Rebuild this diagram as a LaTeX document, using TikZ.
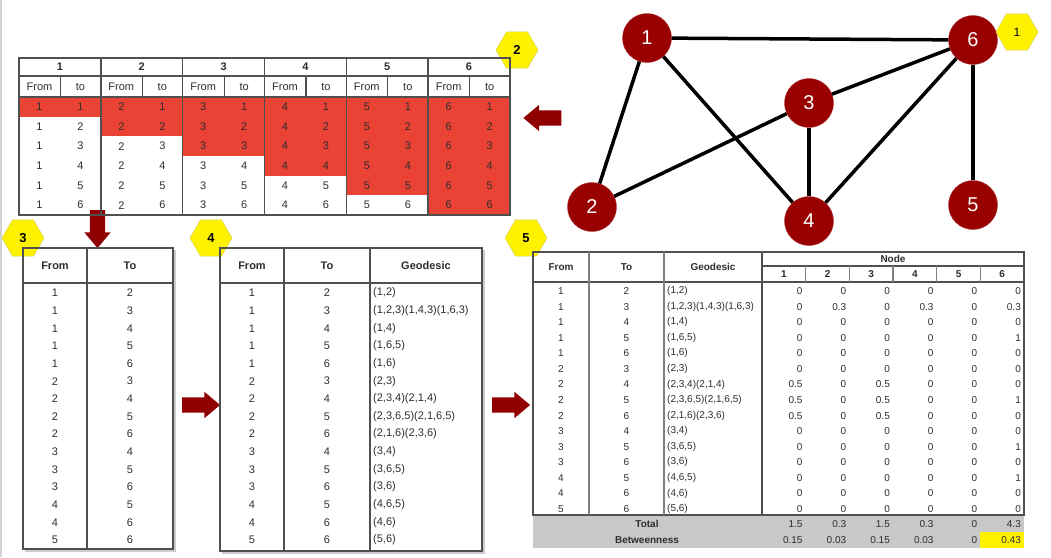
\documentclass[tikz,border=0pt]{standalone}
\usepackage{fontspec}
\setmainfont{Liberation Sans}
\usetikzlibrary{shapes, calc, arrows, positioning}

\definecolor{nodered}{RGB}{153,0,0}
\definecolor{arrowred}{RGB}{145,0,0}
\definecolor{cellred}{RGB}{234,67,54}
\definecolor{gridgray}{RGB}{80,80,80}
\definecolor{bandgray}{RGB}{200,200,200}
\definecolor{txtgray}{RGB}{45,45,45}

\newcommand{\fsz}[1]{\fontsize{#1}{#1}\selectfont}

\def\geopaths{1/2/{(1,2)}, 1/3/{(1,2,3)(1,4,3)(1,6,3)}, 1/4/{(1,4)}, 1/5/{(1,6,5)}, 1/6/{(1,6)}, 2/3/{(2,3)}, 2/4/{(2,3,4)(2,1,4)}, 2/5/{(2,3,6,5)(2,1,6,5)}, 2/6/{(2,1,6)(2,3,6)}, 3/4/{(3,4)}, 3/5/{(3,6,5)}, 3/6/{(3,6)}, 4/5/{(4,6,5)}, 4/6/{(4,6)}, 5/6/{(5,6)}}
\def\shares{{0,0,0,0,0,0}, {0,0.3,0,0.3,0,0.3}, {0,0,0,0,0,0}, {0,0,0,0,0,1}, {0,0,0,0,0,0}, {0,0,0,0,0,0}, {0.5,0,0.5,0,0,0}, {0.5,0,0.5,0,0,1}, {0.5,0,0.5,0,0,0}, {0,0,0,0,0,0}, {0,0,0,0,0,1}, {0,0,0,0,0,0}, {0,0,0,0,0,1}, {0,0,0,0,0,0}, {0,0,0,0,0,0}}

\tikzset{
  vertex/.style={circle, fill=nodered, draw=nodered!80!white, minimum size=49pt, inner sep=0pt, text=white, font=\fsz{20}},
  link/.style={line width=3.5pt},
  badge/.style={regular polygon, regular polygon sides=6, minimum size=42pt, inner sep=0pt, fill=yellow, draw=yellow!60!gray, font=\bfseries\fsz{13}},
  bigarrow/.style={single arrow, fill=arrowred, draw=none, inner xsep=0pt, inner ysep=7.5pt, minimum height=38pt, single arrow head extend=5.5pt, single arrow tip angle=80},
  tabline/.style={draw=gridgray, line width=1.2pt},
  celltext/.style={inner sep=0pt, text=txtgray, font=\fsz{11}},
  headtext/.style={celltext, font=\bfseries\fsz{11}},
  tinytext/.style={inner sep=0pt, text=txtgray, font=\fsz{10}},
  tinyhead/.style={tinytext, font=\bfseries\fsz{10}},
}

\begin{document}
\begin{tikzpicture}[x=1pt, y=-1pt, >=stealth, font=\fsz{11}]
\useasboundingbox (0,0) rectangle (1051,557);
\draw[gray!35, line width=2pt] (1,0) -- (1,557);

\begin{scope}[every node/.style=vertex]
	\node (n1) at (647,38) {1};
	\node (n6) at (973,40) {6};
	\node (n3) at (809,103) {3};
	\node (n2) at (592,207) {2};
	\node (n4) at (809,221) {4};
	\node (n5) at (973,205) {5};
\end{scope}

\draw[link] (n1) -- (n6);
\draw[link] (n1) -- (n2);
\draw[link] (n1) -- (n4);
\draw[link] (n2) -- (n3);
\draw[link] (n3) -- (n6);
\draw[link] (n3) -- (n4);
\draw[link] (n4) -- (n6);
\draw[link] (n6) -- (n5);

\node[badge, font=\fsz{12}] (b1) at (1017,32) {1};
\node[badge] (b2) at (517,50) {2};
\node[badge] (b3) at (23,238) {3};
\node[badge] (b4) at (211,238) {4};
\node[badge] (b5) at (526,238) {5};

\node[bigarrow, rotate=180] (a1) at (547,118) {};
\node[bigarrow, rotate=270] (a2) at (97.5,224.5) {};
\node[bigarrow] (a3) at (196.5,405) {};
\node[bigarrow] (a4) at (506.5,405) {};

% pairs per node
\foreach \k in {1,...,6}{
	\pgfmathsetmacro{\gx}{19+(\k-1)*81.83}
	\fill[cellred] (\gx,97) rectangle ++(81.83,\k*19.67);
	\node[headtext] (t2h\k) at ({\gx+40.9},67) {\k};
	\node[celltext] (t2f\k) at ({\gx+20.5},86.5) {From};
	\node[celltext] (t2t\k) at ({\gx+61.5},86.5) {to};
	\foreach \r in {1,...,6}{
		\node[celltext] (t2a\k\r) at ({\gx+20.5},{97+(\r-0.5)*19.67}) {\k};
		\node[celltext] (t2b\k\r) at ({\gx+61.5},{97+(\r-0.5)*19.67}) {\r};
	}
}
\draw[tabline, line width=1.6pt] (19,58) rectangle (510,215);
\draw[tabline] (19,76) -- (510,76);
\draw[tabline, line width=1.6pt] (19,97) -- (510,97);
\foreach \k in {1,...,5} \draw[tabline, line width=1.6pt] ({19+\k*81.83},58) -- ++(0,157);
\foreach \k in {0,...,5} \draw[tabline] ({19+\k*81.83+41.5},76) -- ++(0,21);

% pairs list
\draw[gray!40, line width=1.5pt] (25,551) -- (175,551) -- (175,250);
\draw[tabline] (23,248) rectangle (173,549);
\draw[tabline] (23,283) -- (173,283);
\draw[tabline] (87,248) -- (87,549);
\node[headtext] (t3h1) at (55,266) {From};
\node[headtext] (t3h2) at (130,266) {To};
\foreach \f/\t/\g [count=\i] in \geopaths{
	\node[celltext] (t3f\i) at (55,{293+(\i-1)*17.64}) {\f};
	\node[celltext] (t3t\i) at (130,{293+(\i-1)*17.64}) {\t};
}

% geodesics
\draw[gray!40, line width=1.5pt] (222,553) -- (484,553) -- (484,250);
\draw[tabline] (220,248) rectangle (482,551);
\draw[tabline] (220,283) -- (482,283);
\draw[tabline] (284,248) -- (284,551);
\draw[tabline] (370,248) -- (370,551);
\node[headtext] (t4h1) at (252,266) {From};
\node[headtext] (t4h2) at (327,266) {To};
\node[headtext] (t4h3) at (426,266) {Geodesic};
\foreach \f/\t/\g [count=\i] in \geopaths{
	\node[celltext] (t4f\i) at (252,{293+(\i-1)*17.64}) {\f};
	\node[celltext] (t4t\i) at (327,{293+(\i-1)*17.64}) {\t};
	\node[celltext, anchor=west] (t4g\i) at (373,{293+(\i-1)*17.64}) {\g};
}

% betweenness
\fill[bandgray] (533,515) rectangle (1024,548);
\fill[yellow] (980.3,532) rectangle (1024,548);
\draw[tabline] (533,252) rectangle (1024,515);
\draw[tabline] (762,266) -- (1024,266);
\draw[tabline] (533,282) -- (1024,282);
\draw[tabline] (762,252) -- (762,515);
\draw[tabline, draw=gray] (589,252) -- (589,515);
\draw[tabline, draw=gray] (664,252) -- (664,515);
\foreach \j in {1,...,5} \draw[tabline, draw=gray] ({762+\j*43.67},266) -- ++(0,16);
\node[tinyhead] (t5h1) at (561,267) {From};
\node[tinyhead] (t5h2) at (626.5,267) {To};
\node[tinyhead] (t5h3) at (713,267) {Geodesic};
\node[tinyhead] (t5h4) at (893,259) {Node};
\foreach \j in {1,...,6} \node[tinyhead] (t5n\j) at ({740.2+\j*43.67},274.5) {\j};
\foreach \f/\t/\g [count=\i] in \geopaths{
	\node[tinytext] (t5f\i) at (561,{291+(\i-1)*15.57}) {\f};
	\node[tinytext] (t5t\i) at (626.5,{291+(\i-1)*15.57}) {\t};
	\node[tinytext, anchor=west] (t5g\i) at (667,{291+(\i-1)*15.57}) {\g};
}
\foreach \row [count=\i] in \shares{
	\foreach \v [count=\j] in \row
		\node[tinytext, anchor=east] (t5v\i-\j) at ({759+\j*43.67},{291+(\i-1)*15.57}) {\v};
}
\node[tinyhead] (tot) at (647,524) {Total};
\node[tinyhead] (btw) at (647,540) {Betweenness};
\foreach \v [count=\j] in {1.5,0.3,1.5,0.3,0,4.3}
	\node[tinytext, anchor=east] (tot\j) at ({759+\j*43.67},524) {\v};
\foreach \v [count=\j] in {0.15,0.03,0.15,0.03,0,0.43}
	\node[tinytext, anchor=east] (btw\j) at ({759+\j*43.67},540) {\v};

\end{tikzpicture}
\end{document}
